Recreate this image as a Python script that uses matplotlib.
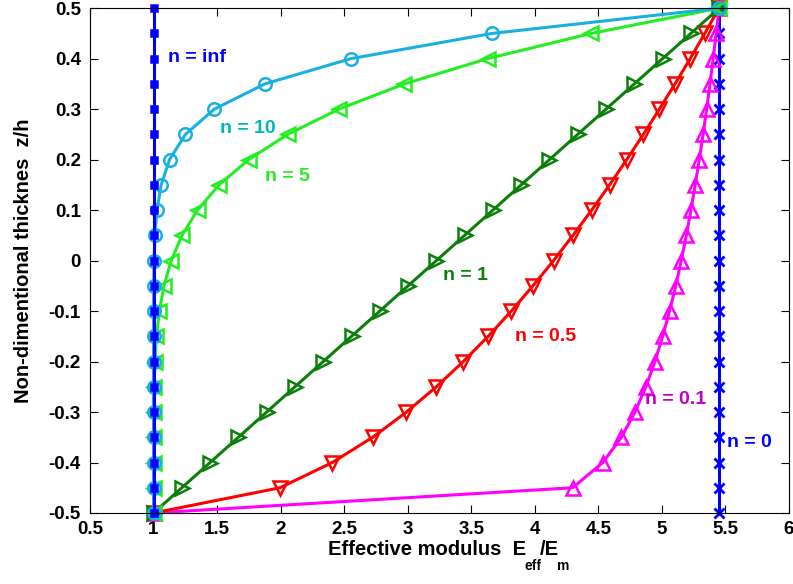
import matplotlib
matplotlib.use("Agg")
import matplotlib.pyplot as plt

plt.rcParams['font.family'] = ['Liberation Sans', 'DejaVu Sans']
plt.rcParams['font.weight'] = 'bold'

z = [-0.5, -0.45, -0.4, -0.35, -0.3, -0.25, -0.2, -0.15, -0.1, -0.05, 0.0,
     0.05, 0.1, 0.15, 0.2, 0.25, 0.3, 0.35, 0.4, 0.45, 0.5]

E_n0 = [5.45] * 21
E_n01 = [1.0, 4.298, 4.535, 4.681, 4.788, 4.874, 4.945, 5.006, 5.060, 5.109, 5.152,
         5.192, 5.228, 5.262, 5.294, 5.324, 5.352, 5.378, 5.403, 5.427, 5.45]
E_n05 = [1.0, 1.995, 2.407, 2.724, 2.990, 3.225, 3.437, 3.633, 3.815, 3.985, 4.147,
         4.300, 4.447, 4.588, 4.723, 4.854, 4.980, 5.103, 5.222, 5.337, 5.45]
E_n1 = [1.0, 1.2225, 1.445, 1.6675, 1.89, 2.1125, 2.335, 2.5575, 2.78, 3.0025, 3.225,
        3.4475, 3.67, 3.8925, 4.115, 4.3375, 4.56, 4.7825, 5.005, 5.2275, 5.45]
E_n5 = [1.0, 1.0, 1.0, 1.0, 1.001, 1.004, 1.011, 1.023, 1.046, 1.082, 1.139,
        1.224, 1.346, 1.516, 1.748, 2.056, 2.458, 2.974, 3.628, 4.443, 5.45]
E_n10 = [1.0, 1.0, 1.0, 1.0, 1.0, 1.0, 1.0, 1.0, 1.0005, 1.0015, 1.004,
         1.011, 1.027, 1.060, 1.126, 1.251, 1.478, 1.876, 2.552, 3.664, 5.45]
E_ninf = [1.0] * 21

labels = ["n = 0", "n = 0.1", "n = 0.5", "n = 1", "n = 5", "n = 10", "n = inf"]
label_x = [5.51, 4.87, 3.84, 3.28, 1.88, 1.52, 1.11]
label_y = [-0.361, -0.276, -0.151, -0.029, 0.167, 0.262, 0.403]

series = [
    (E_n0,   '#0000ff', 'x', 7.5, False, '#0000ff'),
    (E_n01,  '#ff00ff', '^', 10,  True,  '#c000c0'),
    (E_n05,  '#ff0000', 'v', 10,  True,  '#ff0000'),
    (E_n1,   '#0a800a', '>', 10,  True,  '#0a800a'),
    (E_n5,   '#22ee22', '<', 10,  True,  '#22ee22'),
    (E_n10,  '#18b0e0', 'o', 9,   True,  '#00b8b8'),
    (E_ninf, '#0000ff', 's', 5,   False, '#0000ff'),
]

fig = plt.figure(figsize=(7.93, 5.84), dpi=100)
ax = fig.add_axes([0.1135, 0.1216, 0.8815, 0.8644])

for (E, col, mk, ms, hollow, tcol), lab, lx, ly in zip(series, labels, label_x, label_y):
    ax.plot(E, z, color=col, lw=2.2, marker=mk, ms=ms, mew=2.0 if mk == 'x' else 1.8,
            mfc='none' if hollow else col, mec=col, clip_on=False)
    ax.text(lx, ly, lab, color=tcol, fontsize=14, fontweight='bold',
            ha='left', va='center')

ax.set_xlim(0.5, 6)
ax.set_ylim(-0.5, 0.5)
ax.set_xticks([0.5, 1, 1.5, 2, 2.5, 3, 3.5, 4, 4.5, 5, 5.5, 6])
ax.set_xticklabels(['0.5', '1', '1.5', '2', '2.5', '3', '3.5', '4', '4.5', '5', '5.5', '6'])
yt = [-0.5, -0.4, -0.3, -0.2, -0.1, 0, 0.1, 0.2, 0.3, 0.4, 0.5]
ax.set_yticks(yt)
ax.set_yticklabels(['-0.5', '-0.4', '-0.3', '-0.2', '-0.1', '0', '0.1', '0.2', '0.3', '0.4', '0.5'])
ax.tick_params(direction='in', top=True, right=True, length=6, width=0.8,
               labelsize=13.5)
ax.tick_params(axis='x', pad=6)
ax.tick_params(axis='y', pad=6.5)
for t in ax.get_xticklabels() + ax.get_yticklabels():
    t.set_fontweight('bold')

# x label built from pieces so that subscripts sit low as in the reference
fs_main, fs_sub = 14.5, 10
t1 = fig.text(0.414, 0.049, 'Effective modulus  E', fontsize=fs_main,
              fontweight='bold', ha='left', va='baseline')
s1 = ax.annotate('eff', xy=(1, 0), xycoords=t1, xytext=(-1.5, 0.3),
                 textcoords='offset points', fontsize=fs_sub, fontweight='bold',
                 ha='left', va='top', annotation_clip=False)
t2 = ax.annotate('/E', xy=(1, 0), xycoords=(s1, t1), xytext=(-1.0, 0),
                 textcoords='offset points', fontsize=fs_main, fontweight='bold',
                 ha='left', va='bottom', annotation_clip=False)
s2 = ax.annotate('m', xy=(1, 0), xycoords=(t2, t1), xytext=(-1.5, 0.3),
                 textcoords='offset points', fontsize=fs_sub, fontweight='bold',
                 ha='left', va='top', annotation_clip=False)

ax.set_ylabel('Non-dimentional thicknes  z/h', fontsize=14.5, fontweight='bold', labelpad=11)

fig.savefig('out.png', dpi=100)
